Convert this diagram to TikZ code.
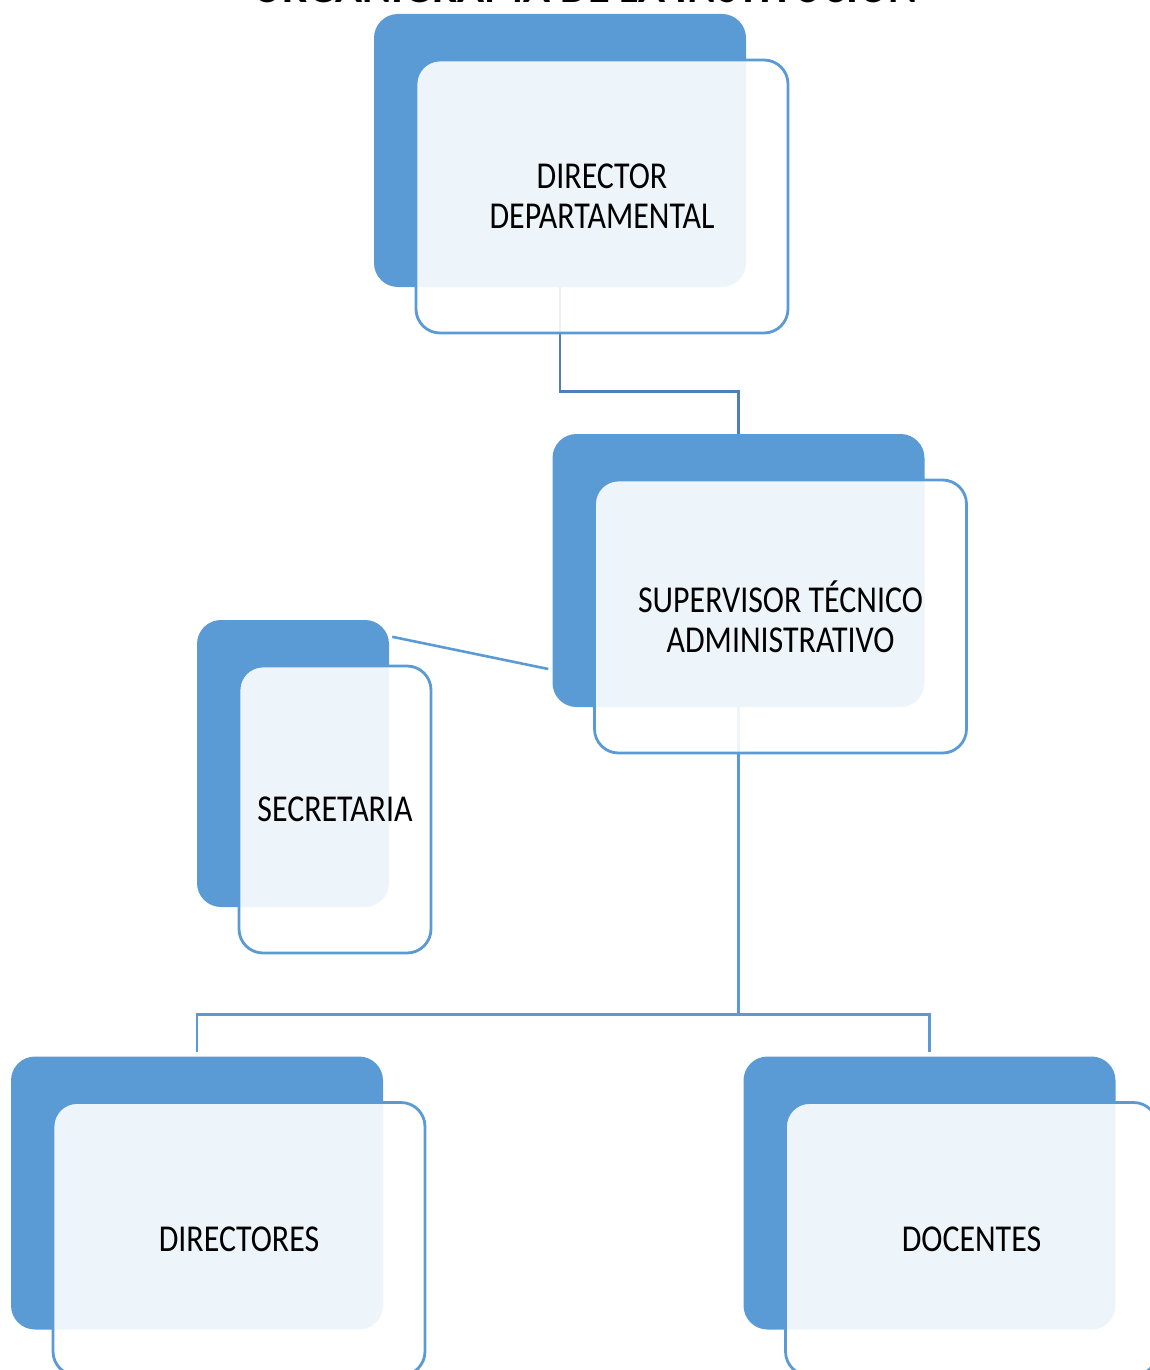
\documentclass[tikz,border=0pt]{standalone}
\usepackage{fontspec}
\setmainfont{Carlito}
\newfontfamily\boxfont[FakeStretch=0.84]{Carlito}
\usetikzlibrary{positioning,calc}
\definecolor{orgblue}{HTML}{5B9BD5}
\definecolor{orgline}{HTML}{4F7FB5}

\begin{document}
\begin{tikzpicture}[x=1pt,y=-1pt,
	backbox/.style={fill=orgblue, rounded corners=24pt, inner sep=0pt, minimum width=372pt, minimum height=273pt},
	frontbox/.style={draw=orgblue, line width=2.8pt, fill=white, fill opacity=0.9, text opacity=1, rounded corners=24pt, inner sep=0pt, minimum width=372pt, minimum height=273pt, align=center, font=\boxfont\fontsize{38}{40}\selectfont},
	link/.style={draw=orgblue, line width=2.6pt}]
	\useasboundingbox (0,0) rectangle (1149,1370);
	% titulo (cortado arriba)
	\node[anchor=base, font=\boxfont\bfseries\fontsize{53}{60}\selectfont] (titulo) at (585,3) {ORGANIGRAMA DE LA INSTITUCIÓN};
	% cajas de fondo
	\node[backbox] (dir) at (560,150.5) {};
	\node[backbox] (sup) at (738.5,570.5) {};
	\node[backbox, minimum width=192pt, minimum height=287pt] (sec) at (293,763.5) {};
	\node[backbox] (dtores) at (197,1193) {};
	\node[backbox] (docs) at (929.5,1193) {};
	% conectores
	\draw[link, draw=orgline] (dir.south) -- ++(0,104) -| (sup.north);
	\draw[link] (sup.south) -- ++(0,307) coordinate (fork);
	\draw[link] (fork) -| ([yshift=4pt]dtores.north);
	\draw[link] (fork) -| ([yshift=4pt]docs.north);
	\draw[link] ([xshift=3pt,yshift=-17pt]sec.north east) -- ([xshift=-4pt,yshift=-98.5pt]sup.west);
	% cajas con texto
	\node[frontbox] (dirtxt) at ($(dir)+(42,46)$) {DIRECTOR\\DEPARTAMENTAL};
	\node[frontbox] (suptxt) at ($(sup)+(42,46)$) {SUPERVISOR TÉCNICO\\ADMINISTRATIVO};
	\node[frontbox, minimum width=192pt, minimum height=287pt] (sectxt) at ($(sec)+(42,46)$) {SECRETARIA};
	\node[frontbox] (dtorestxt) at ($(dtores)+(42,46)$) {DIRECTORES};
	\node[frontbox] (docstxt) at ($(docs)+(42,46)$) {DOCENTES};
\end{tikzpicture}
\end{document}
